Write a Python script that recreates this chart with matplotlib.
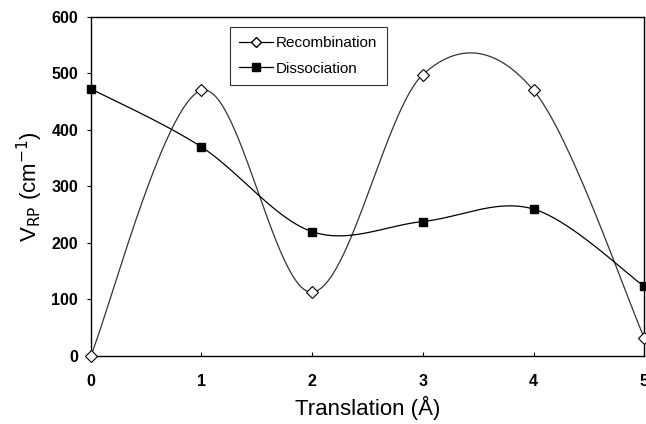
import numpy as np
import matplotlib
matplotlib.use("Agg")
import matplotlib.pyplot as plt
from matplotlib.lines import Line2D

x = [0, 1, 2, 3, 4, 5]
recombination = [0, 470, 113, 498, 470, 32]
dissociation = [473, 370, 220, 238, 260, 123]
xticks = [0, 1, 2, 3, 4, 5]
yticks = [0, 100, 200, 300, 400, 500, 600]

plt.rcParams['font.family'] = ['Liberation Sans', 'DejaVu Sans']


def smooth(xs, ys, n=60):
    P = np.column_stack([xs, ys]).astype(float)
    m = len(P)
    out = []
    for i in range(m - 1):
        p0 = P[max(i - 1, 0)]
        p1 = P[i]
        p2 = P[i + 1]
        p3 = P[min(i + 2, m - 1)]
        c1 = p1 + (p2 - p0) / 6.0
        c2 = p2 - (p3 - p1) / 6.0
        t = np.linspace(0, 1, n)[:, None]
        seg = ((1 - t) ** 3) * p1 + 3 * ((1 - t) ** 2) * t * c1 + 3 * (1 - t) * t ** 2 * c2 + t ** 3 * p2
        out.append(seg if i == 0 else seg[1:])
    s = np.vstack(out)
    return s[:, 0], s[:, 1]


fig = plt.figure(figsize=(6.46, 4.24), dpi=100)
ax = fig.add_axes([0.1404, 0.1604, 0.857, 0.7996])

rx, ry = smooth(x, recombination)
dx, dy = smooth(x, dissociation)
ax.plot(rx, ry, color='#333333', lw=0.9, zorder=2)
ax.plot(dx, dy, color='black', lw=0.9, zorder=2)
ax.plot(x, recombination, ls='none', marker='D', ms=6.5, mfc='white', mec='black', mew=0.8, zorder=3, clip_on=False)
ax.plot(x, dissociation, ls='none', marker='s', ms=6, mfc='black', mec='black', zorder=3, clip_on=False)

ax.set_xlim(0, 5)
ax.set_ylim(0, 600)
ax.set_xticks(xticks)
ax.set_yticks(yticks)
ax.tick_params(axis='x', direction='in', length=3, width=0.8, pad=13, labelsize=11.5)
ax.tick_params(axis='y', direction='out', length=3, width=0.8, pad=6, labelsize=11.5)
for lab in ax.get_xticklabels() + ax.get_yticklabels():
    lab.set_fontweight('bold')
for sp in ax.spines.values():
    sp.set_linewidth(1.0)
    sp.set_color('black')

ax.set_xlabel('Translation (Å)', fontsize=16, labelpad=5)
ax.set_ylabel(r'V$_{\mathrm{RP}}$ (cm$^{\mathrm{-1}}$)', fontsize=16, labelpad=5)

handles = [
    Line2D([0], [0], color='black', lw=0.9, marker='D', ms=5.5, mfc='white', mec='black'),
    Line2D([0], [0], color='black', lw=0.9, marker='s', ms=5.5, mfc='black', mec='black'),
]
leg = ax.legend(handles, ['Recombination', 'Dissociation'], loc='upper left',
                bbox_to_anchor=(0.252, 0.97), frameon=True, fancybox=False,
                edgecolor='black', fontsize=11, handlelength=2.2, handletextpad=0.2,
                borderpad=0.6, labelspacing=0.75, borderaxespad=0)
leg.get_frame().set_linewidth(0.8)

fig.savefig('out.png', dpi=100)
